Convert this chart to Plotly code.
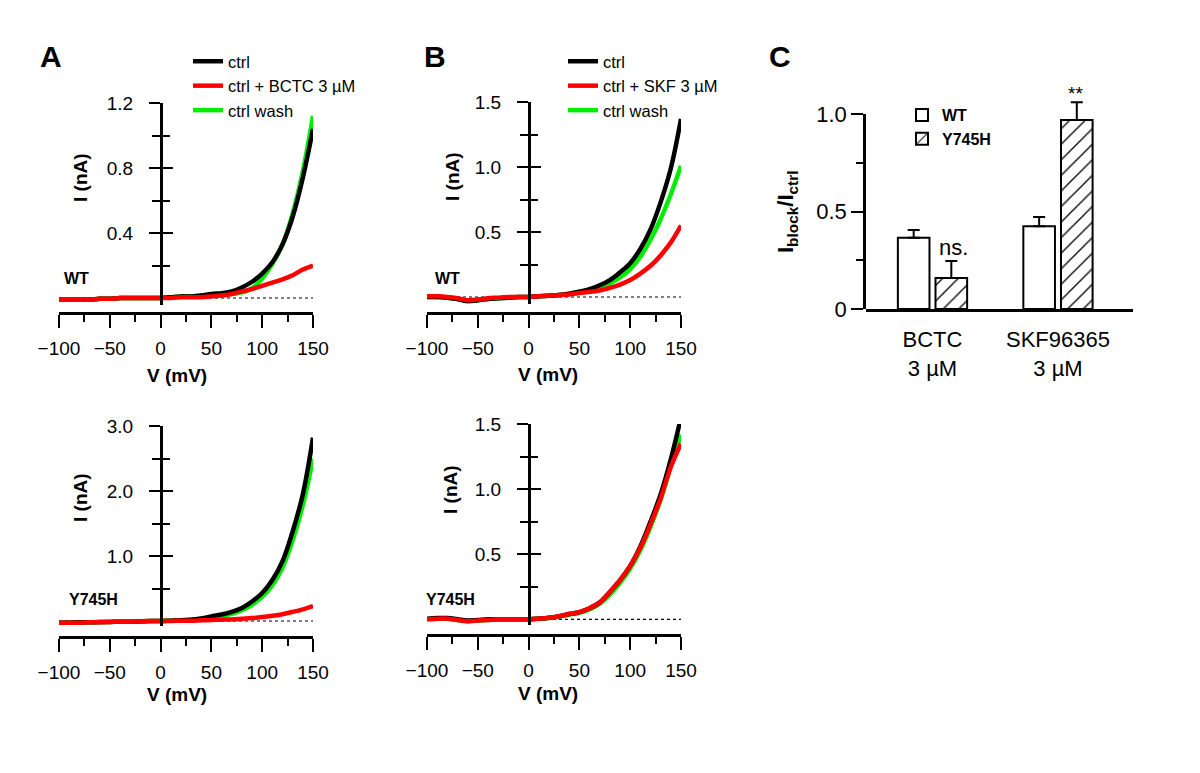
import plotly.graph_objects as go

W, H = 1200, 773
PAGE_OFFSET = 8  # default body margin of the html page

# ---------------- data ----------------
V = [-100, -90, -80, -70, -60, -50, -40, -30, -20, -10, 0, 10, 20, 30, 40, 50,
     60, 70, 80, 90, 100, 110, 120, 130, 140, 150]

# Panel A top: WT, BCTC 3 uM
A_wt_ctrl = [-0.01, -0.01, -0.01, -0.01, -0.005, -0.005, 0, 0, 0, 0, 0, 0.005, 0.01, 0.01,
             0.015, 0.025, 0.03, 0.04, 0.065, 0.1, 0.15, 0.22, 0.33, 0.5, 0.74, 1.04]
A_wt_drug = [-0.01, -0.01, -0.01, -0.01, -0.005, -0.005, 0, 0, 0, 0, 0, 0, 0.005, 0.005,
             0.005, 0.01, 0.015, 0.025, 0.04, 0.055, 0.075, 0.095, 0.115, 0.14, 0.175, 0.2]
A_wt_wash = [-0.01, -0.01, -0.01, -0.01, -0.005, -0.005, 0, 0, 0, 0, 0, 0.005, 0.01, 0.01,
             0.015, 0.02, 0.02, 0.025, 0.035, 0.06, 0.12, 0.21, 0.33, 0.52, 0.78, 1.12]

# Panel A bottom: Y745H, BCTC 3 uM
A_mut_ctrl = [-0.025, -0.025, -0.02, -0.02, -0.015, -0.015, -0.01, -0.01, -0.005, 0, 0, 0.005,
              0.01, 0.02, 0.04, 0.07, 0.1, 0.14, 0.2, 0.3, 0.43, 0.63, 0.92, 1.38, 1.95, 2.82]
A_mut_drug = [-0.028, -0.027, -0.025, -0.02, -0.02, -0.015, -0.01, -0.01, -0.005, 0, 0, 0,
              0.005, 0.005, 0.01, 0.015, 0.02, 0.025, 0.035, 0.045, 0.06, 0.08, 0.105, 0.14,
              0.18, 0.23]
A_mut_wash = [-0.025, -0.025, -0.02, -0.02, -0.015, -0.015, -0.01, -0.01, -0.005, 0, 0, 0.005,
              0.01, 0.02, 0.035, 0.05, 0.075, 0.11, 0.165, 0.25, 0.37, 0.55, 0.82, 1.24,
              1.78, 2.5]

# Panel B top: WT, SKF 3 uM
B_wt_ctrl = [0, 0, -0.005, -0.015, -0.035, -0.025, -0.015, -0.01, -0.005, 0, 0, 0.005, 0.01,
             0.015, 0.025, 0.04, 0.06, 0.09, 0.13, 0.19, 0.26, 0.37, 0.52, 0.73, 0.99, 1.37]
B_wt_drug = [0.005, 0.005, 0, -0.01, -0.025, -0.02, -0.01, -0.005, 0, 0, 0, 0.005, 0.01,
             0.015, 0.02, 0.03, 0.04, 0.05, 0.07, 0.095, 0.13, 0.18, 0.24, 0.32, 0.42, 0.55]
B_wt_wash = [0, 0, -0.005, -0.015, -0.03, -0.025, -0.015, -0.01, -0.005, 0, 0, 0.005, 0.01,
             0.015, 0.025, 0.04, 0.055, 0.075, 0.105, 0.15, 0.215, 0.31, 0.44, 0.6, 0.79, 1.01]

# Panel B bottom: Y745H, SKF 3 uM
B_mut_ctrl = [0.005, 0.01, 0.01, 0, -0.01, -0.005, 0, 0, 0, 0, 0, 0.005, 0.012, 0.024,
              0.04, 0.055, 0.085, 0.13, 0.21, 0.3, 0.41, 0.56, 0.75, 0.96, 1.23, 1.55]
B_mut_drug = [0, 0.005, 0.005, -0.005, -0.015, -0.01, -0.005, 0, 0, 0, 0, 0.005, 0.012,
              0.024, 0.04, 0.055, 0.085, 0.13, 0.21, 0.3, 0.41, 0.55, 0.73, 0.93, 1.17, 1.35]
B_mut_wash = [0, 0.005, 0.005, -0.005, -0.015, -0.01, -0.005, 0, 0, 0, 0, 0.005, 0.01,
              0.02, 0.035, 0.05, 0.075, 0.12, 0.19, 0.28, 0.39, 0.53, 0.71, 0.92, 1.18, 1.42]

# Panel C
bar_categories = ["BCTC<br>3 µM", "SKF96365<br>3 µM"]
bar_wt = [0.365, 0.424]
bar_wt_err = [0.04, 0.048]
bar_mut = [0.159, 0.969]
bar_mut_err = [0.087, 0.091]

x_major = [-100, -50, 0, 50, 100, 150]
x_minor = [-75, -25, 25, 75, 125]

# ---------------- helpers ----------------
FONT = "Liberation Sans, Arial, Helvetica, sans-serif"
BLACK, RED, GREEN = "#000000", "#ff0000", "#00ee00"


def fx(px):
    return (px - PAGE_OFFSET) / W


def fy(py):
    return 1 - (py - PAGE_OFFSET) / H


fig = go.Figure()

panels = [
    dict(n=1, ov=5, x=(59, 313), xpos=313, yr=[-0.04, 1.2], yd=(304.5, 103),
         major=[0.4, 0.8, 1.2], minor=[0.2, 0.6, 1.0],
         data=(A_wt_ctrl, A_wt_drug, A_wt_wash), drug="ctrl + BCTC 3 µM",
         legend="legend", show=True),
    dict(n=2, ov=6, x=(427, 681), xpos=313, yr=[-0.05, 1.5], yd=(303.5, 102),
         major=[0.5, 1.0, 1.5], minor=[0.25, 0.75, 1.25],
         data=(B_wt_ctrl, B_wt_drug, B_wt_wash), drug="ctrl + SKF 3 µM",
         legend="legend2", show=True),
    dict(n=3, ov=7, x=(59, 313), xpos=637, yr=[-0.08, 3.0], yd=(626.2, 426),
         major=[1.0, 2.0, 3.0], minor=[0.5, 1.5, 2.5],
         data=(A_mut_ctrl, A_mut_drug, A_mut_wash), drug="ctrl + BCTC 3 µM",
         legend="legend", show=False),
    dict(n=4, ov=8, x=(427, 681), xpos=635, yr=[-0.04, 1.5], yd=(624.5, 424),
         major=[0.5, 1.0, 1.5], minor=[0.25, 0.75, 1.25],
         data=(B_mut_ctrl, B_mut_drug, B_mut_wash), drug="ctrl + SKF 3 µM",
         legend="legend2", show=False),
]

layout = {}
for p in panels:
    n = p["n"]
    xid = "x" if n == 1 else f"x{n}"
    yid = "y" if n == 1 else f"y{n}"
    oid = f"y{p['ov']}"
    ctrl, drug, wash = p["data"]

    # zero reference (dotted)
    fig.add_trace(go.Scatter(x=[V[0], V[-1]], y=[0, 0], mode="lines",
                             line=dict(color=BLACK, width=1.2, dash="dot"),
                             showlegend=False, hoverinfo="skip", xaxis=xid, yaxis=yid))
    common = dict(mode="lines", line_shape="spline", xaxis=xid, yaxis=yid,
                  legend=p["legend"], showlegend=p["show"], hoverinfo="skip")
    fig.add_trace(go.Scatter(x=V, y=wash, name="ctrl wash", legendrank=3,
                             line=dict(color=GREEN, width=4.5), **common))
    fig.add_trace(go.Scatter(x=V, y=ctrl, name="ctrl", legendrank=1,
                             line=dict(color=BLACK, width=4.5), **common))
    fig.add_trace(go.Scatter(x=V, y=drug, name=p["drug"], legendrank=2,
                             line=dict(color=RED, width=4.5), **common))
    # carrier for the tick-crossing overlay axis (draws nothing)
    fig.add_trace(go.Scatter(x=[V[0]], y=[0], mode="lines", showlegend=False,
                             hoverinfo="skip", xaxis=xid, yaxis=oid,
                             line=dict(color="rgba(0,0,0,0)")))

    x0, x1 = p["x"]
    ypos = fx(x0 + (0 - x_major[0]) / (x_major[-1] - x_major[0]) * (x1 - x0))
    xkey = "xaxis" if n == 1 else f"xaxis{n}"
    ykey = "yaxis" if n == 1 else f"yaxis{n}"
    okey = f"yaxis{p['ov']}"
    layout[xkey] = dict(domain=[fx(x0), fx(x1)], range=[x_major[0], x_major[-1]],
                        anchor="free", position=fy(p["xpos"]), automargin=False,
                        showline=True, linewidth=2.5, linecolor=BLACK,
                        ticks="outside", ticklen=13, tickwidth=2, tickcolor=BLACK,
                        tickmode="array", tickvals=x_major,
                        minor=dict(tickmode="array", tickvals=x_minor, ticks="outside",
                                   ticklen=7, tickwidth=2, tickcolor=BLACK),
                        tickfont=dict(family=FONT, size=19, color=BLACK),
                        ticklabelstandoff=4,
                        showgrid=False, zeroline=False, fixedrange=True)
    ycommon = dict(range=p["yr"], anchor="free", position=ypos, automargin=False,
                   tickmode="array", tickvals=p["major"], tickformat=".1f",
                   tickwidth=2, tickcolor=BLACK, ticklen=11,
                   showgrid=False, zeroline=False, fixedrange=True)
    layout[ykey] = dict(domain=[fy(p["yd"][0]), fy(p["yd"][1])],
                        showline=True, linewidth=2.5, linecolor=BLACK,
                        ticks="outside",
                        minor=dict(tickmode="array", tickvals=p["minor"], ticks="outside",
                                   ticklen=8, tickwidth=2, tickcolor=BLACK),
                        tickfont=dict(family=FONT, size=19, color=BLACK),
                        ticklabelstandoff=12, **ycommon)
    layout[okey] = dict(overlaying=yid, showline=False, ticks="inside",
                        showticklabels=False,
                        minor=dict(tickmode="array", tickvals=p["minor"], ticks="inside",
                                   ticklen=8, tickwidth=2, tickcolor=BLACK),
                        **ycommon)

# ---------------- panel C bars ----------------
fig.add_trace(go.Bar(x=bar_categories, y=bar_wt, name="WT", xaxis="x5", yaxis="y9",
                     legend="legend3",
                     marker=dict(color="white", line=dict(color=BLACK, width=2)),
                     error_y=dict(type="data", array=bar_wt_err, symmetric=False,
                                  arrayminus=[0, 0], color=BLACK, thickness=2, width=6),
                     hoverinfo="skip"))
fig.add_trace(go.Bar(x=bar_categories, y=bar_mut, name="Y745H", xaxis="x5", yaxis="y9",
                     legend="legend3",
                     marker=dict(color="white", line=dict(color=BLACK, width=2),
                                 pattern=dict(shape="/", fgcolor=BLACK, bgcolor="white",
                                              size=11, solidity=0.12)),
                     error_y=dict(type="data", array=bar_mut_err, symmetric=False,
                                  arrayminus=[0, 0], color=BLACK, thickness=2, width=6),
                     hoverinfo="skip"))
# carrier for the visible value axis of panel C (draws nothing)
fig.add_trace(go.Scatter(x=[bar_categories[0]], y=[0], mode="lines", showlegend=False,
                         hoverinfo="skip", xaxis="x5", yaxis="y10",
                         line=dict(color="rgba(0,0,0,0)")))

C_UNIT = 195  # px per unit on panel C value axis
layout["xaxis5"] = dict(domain=[fx(866), fx(1133)], range=[-0.53, 1.598], anchor="y9",
                        type="category", automargin=False,
                        showline=True, linewidth=2.5, linecolor=BLACK,
                        ticks="", tickfont=dict(family=FONT, size=22, color=BLACK),
                        ticklabelstandoff=9, showgrid=False, zeroline=False,
                        fixedrange=True)
# bar axis: reaches a bit above 1.0 so the error bars are not clipped
layout["yaxis9"] = dict(domain=[fy(309), fy(309 - 1.12 * C_UNIT)], range=[0, 1.12],
                        anchor="x5", automargin=False, visible=False,
                        showgrid=False, zeroline=False, fixedrange=True)
# visible value axis: line from 0 to 1.0
layout["yaxis10"] = dict(domain=[fy(309), fy(309 - 1.0 * C_UNIT)], range=[0, 1.0],
                         anchor="x5", automargin=False,
                         showline=True, linewidth=2.5, linecolor=BLACK,
                         ticks="outside", ticklen=12, tickwidth=2, tickcolor=BLACK,
                         tickmode="array", tickvals=[0, 0.5, 1.0],
                         ticktext=["0", "0.5", "1.0"],
                         minor=dict(tickmode="array", tickvals=[0.25, 0.75], ticks="outside",
                                    ticklen=7, tickwidth=2, tickcolor=BLACK),
                         tickfont=dict(family=FONT, size=22, color=BLACK),
                         showgrid=False, zeroline=False, fixedrange=True)

# ---------------- annotations ----------------
ann = []


def text(px, py, s, size, bold=False, angle=0):
    ann.append(dict(x=fx(px), y=fy(py), xref="paper", yref="paper",
                    text=f"<b>{s}</b>" if bold else s, showarrow=False,
                    xanchor="center", yanchor="middle", textangle=angle,
                    font=dict(family=FONT, size=size, color=BLACK)))


text(51, 56, "A", 30, True)
text(435, 56, "B", 30, True)
text(780, 57, "C", 30, True)
for (px, py) in [(80, 178), (452, 177), (80, 498), (450, 490)]:
    text(px, py, "I (nA)", 19, True, -90)
for (px, py) in [(177, 375), (548, 374), (177, 694), (548, 693)]:
    text(px, py, "V (mV)", 19, True)
text(76, 278, "WT", 16, True)
text(448, 278, "WT", 16, True)
text(93, 599, "Y745H", 16, True)
text(450, 599, "Y745H", 16, True)
text(787, 212, "I<sub>block</sub>/I<sub>ctrl</sub>", 22, True, -90)
text(953, 247, "ns.", 22)
text(1075, 93, "**", 19)

leg_common = dict(xanchor="left", yanchor="top", bgcolor="rgba(0,0,0,0)",
                  borderwidth=0, tracegroupgap=0, itemwidth=30,
                  font=dict(family=FONT, size=16.5, color=BLACK))

fig.update_layout(
    template="none",
    width=W, height=H, margin=dict(l=0, r=0, t=0, b=0, autoexpand=False),
    paper_bgcolor="white", plot_bgcolor="rgba(0,0,0,0)",
    font=dict(family=FONT, color=BLACK),
    barmode="group", bargap=0.40, bargroupgap=0.16,
    annotations=ann,
    legend=dict(x=fx(188), y=fy(44), **leg_common),
    legend2=dict(x=fx(563), y=fy(44), **leg_common),
    legend3=dict(x=fx(902), y=fy(98), xanchor="left", yanchor="top",
                 bgcolor="rgba(0,0,0,0)", borderwidth=0, tracegroupgap=0,
                 font=dict(family=FONT, size=16, color=BLACK, weight="bold")),
    **layout,
)

fig.write_html("out.html")
